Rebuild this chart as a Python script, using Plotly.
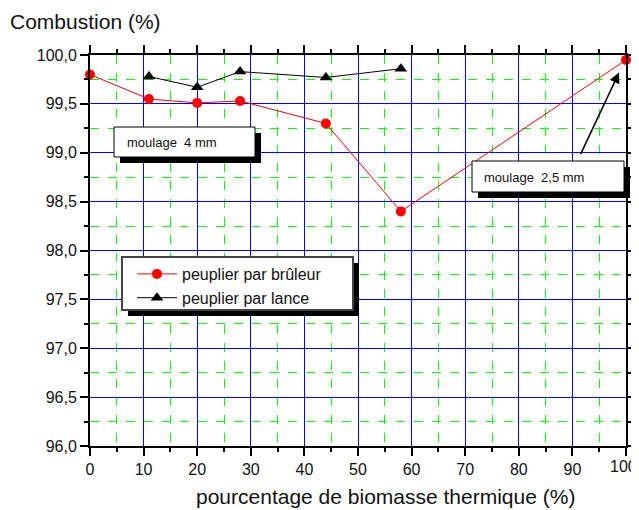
import plotly.graph_objects as go

# Data
x_bruleur = [0, 11, 20, 28, 44, 58, 100]
y_bruleur = [99.80, 99.55, 99.51, 99.53, 99.30, 98.40, 99.95]
x_lance = [11, 20, 28, 44, 58]
y_lance = [99.78, 99.67, 99.83, 99.77, 99.86]
y_ticks = [96.0, 96.5, 97.0, 97.5, 98.0, 98.5, 99.0, 99.5, 100.0]
x_ticks = [0, 10, 20, 30, 40, 50, 60, 70, 80, 90, 100]
x_ticktext = ["0", "10", "20", "30", "40", "50", "60", "70", "80", "90", ""]
x_last_label = "100"

# page has an 8px body margin, so the figure is offset by 8px
OFF = 8
W, H = 639, 510 - OFF
L, R, T, B = 90 - OFF, 21, 55 - OFF, 64
PW, PH = W - L - R, H - T - B

def px(xp):  # reference screen pixel -> paper x
    return (xp - OFF - L) / PW

def py(yp):  # reference screen pixel -> paper y
    return (H - B - (yp - OFF)) / PH

FONT = "Liberation Sans, Arial, sans-serif"

fig = go.Figure()
fig.add_trace(go.Scatter(
    x=x_bruleur, y=y_bruleur, mode="lines+markers", name="peuplier par brûleur",
    line=dict(color="#ff0000", width=1),
    marker=dict(color="#ff0000", size=10, symbol="circle"),
    cliponaxis=False))
fig.add_trace(go.Scatter(
    x=x_lance, y=y_lance, mode="lines+markers", name="peuplier par lance",
    line=dict(color="#000000", width=1),
    marker=dict(color="#000000", size=11, symbol="triangle-up"),
    cliponaxis=False))

axis_common = dict(
    showline=True, linecolor="black", linewidth=2, mirror="allticks",
    ticks="outside", ticklen=8, tickcolor="black", tickwidth=1.5,
    showgrid=True, gridcolor="#0000ff", gridwidth=1, zeroline=False,
    automargin=False, ticklabeloverflow="allow",
    tickfont=dict(family=FONT, size=16, color="#111"),
)

fig.update_xaxes(range=[0, 100], tickvals=x_ticks, ticktext=x_ticktext, **axis_common,
                 minor=dict(dtick=5, showgrid=True, gridcolor="#00ff00", griddash="dash",
                            gridwidth=1, ticks="outside", ticklen=4, tickcolor="black"))
fig.update_yaxes(range=[96, 100], tickvals=y_ticks, tickformat=".1f", **axis_common,
                 minor=dict(dtick=0.25, showgrid=True, gridcolor="#00ff00", griddash="dash",
                            gridwidth=1, ticks="outside", ticklen=4, tickcolor="black"))

shapes = []
def box(x0, y0, x1, y1, shadow=6, border="black", bw=1):
    shapes.append(dict(type="rect", xref="paper", yref="paper", layer="above",
                       x0=px(x0 + shadow), x1=px(x1 + shadow), y0=py(y1 + shadow), y1=py(y0 + shadow),
                       fillcolor="black", line=dict(width=0)))
    shapes.append(dict(type="rect", xref="paper", yref="paper", layer="above",
                       x0=px(x0), x1=px(x1), y0=py(y1), y1=py(y0),
                       fillcolor="white", line=dict(color=border, width=bw)))

box(114, 127, 255, 157)
box(472, 161, 624, 192)
box(122, 257, 353, 310, border="#444", bw=2)

annotations = [
    dict(text="moulage\u00a0\u00a04 mm", xref="paper", yref="paper", x=px(125), y=py(142),
         xanchor="left", yanchor="middle", showarrow=False,
         font=dict(family=FONT, size=13, color="#111")),
    dict(text="moulage\u00a0\u00a02,5 mm", xref="paper", yref="paper", x=px(482), y=py(177),
         xanchor="left", yanchor="middle", showarrow=False,
         font=dict(family=FONT, size=13, color="#111")),
    dict(text="", x=98.7, y=99.82, xref="x", yref="y", ax=91.4, ay=98.97, axref="x", ayref="y",
         showarrow=True, arrowhead=2, arrowsize=1.4, arrowwidth=1.5, arrowcolor="black",
         standoff=0),
    dict(text="Combustion (%)", xref="paper", yref="paper", x=px(8), y=py(21),
         xanchor="left", yanchor="middle", showarrow=False,
         font=dict(family=FONT, size=21, color="#111")),
    dict(text="pourcentage de biomasse thermique (%)", xref="paper", yref="paper",
         x=px(385), y=py(497), xanchor="center", yanchor="middle", showarrow=False,
         font=dict(family=FONT, size=21, color="#111")),
    # last x tick label, kept inside the visible page
    dict(text=x_last_label, xref="x", yref="paper", x=x_ticks[-1], y=py(466),
         xanchor="right", yanchor="middle", xshift=13, showarrow=False,
         font=dict(family=FONT, size=16, color="#111")),
]

fig.update_layout(
    width=W, height=H,
    margin=dict(l=L, r=R, t=T, b=B, autoexpand=False),
    paper_bgcolor="white", plot_bgcolor="white",
    separators=", ",
    showlegend=True,
    legend=dict(x=px(132), y=py(257), xanchor="left", yanchor="top",
                bgcolor="rgba(0,0,0,0)", borderwidth=0,
                font=dict(family=FONT, size=16, color="#111"),
                itemwidth=40, tracegroupgap=0),
    shapes=shapes,
    annotations=annotations,
)

fig.write_html("out.html")
